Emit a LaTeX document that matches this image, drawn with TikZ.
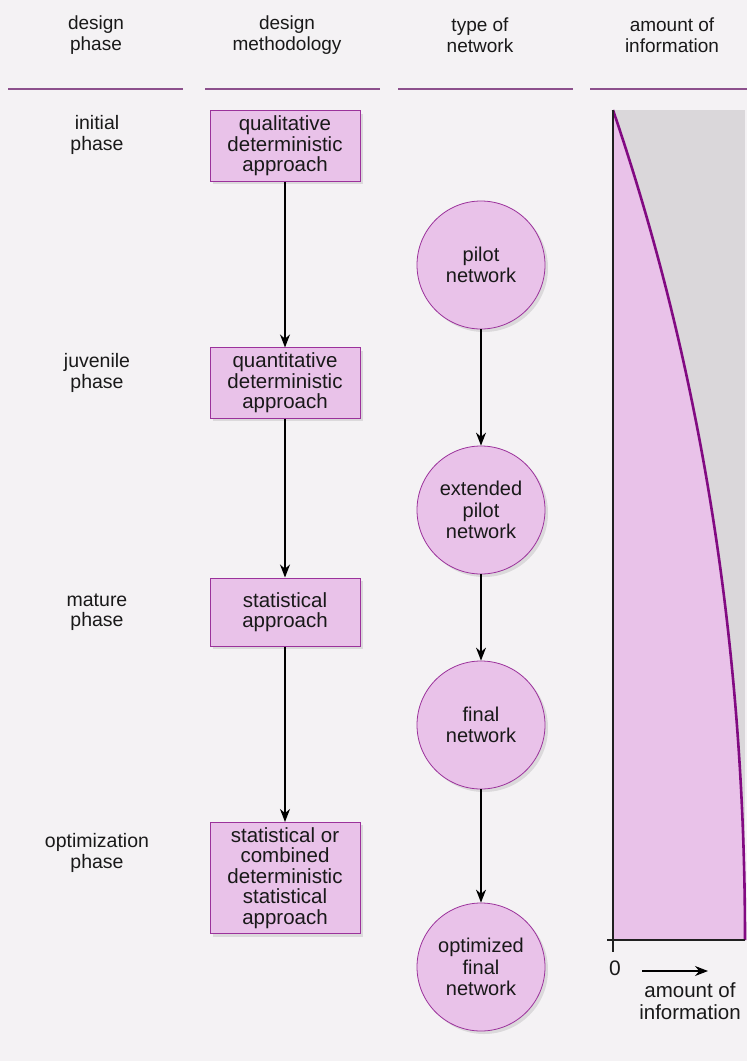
\documentclass[tikz,border=0pt]{standalone}
\usepackage{fontspec}
\setmainfont{Liberation Sans}
\usetikzlibrary{arrows.meta,positioning,shadows}
\definecolor{pagebg}{RGB}{244,242,244}
\definecolor{boxpink}{RGB}{233,194,233}
\definecolor{boxedge}{RGB}{155,50,155}
\definecolor{curvepurple}{RGB}{130,10,130}
\definecolor{rulepurple}{RGB}{140,80,140}
\definecolor{shadegray}{RGB}{218,215,218}
\definecolor{inkgray}{RGB}{25,25,25}

\begin{document}
\begin{tikzpicture}[
    x=1pt, y=-1pt,
    every node/.style={text=inkgray, align=center},
    headtxt/.style={font=\fontsize{19}{21}\selectfont},
    phasetxt/.style={font=\fontsize{19.5}{20.5}\selectfont},
    softshadow/.style={drop shadow={shadow xshift=3pt, shadow yshift=-3pt,
                       fill=black, opacity=0.10}},
    method/.style={rectangle, draw=boxedge, line width=1pt, fill=boxpink,
                   minimum width=150pt, minimum height=68pt, inner sep=5pt,
                   font=\fontsize{20.5}{20.5}\selectfont, softshadow},
    net/.style={circle, draw=boxedge, line width=0.8pt, fill=boxpink,
                minimum size=128pt, inner sep=0pt,
                font=\fontsize{20}{21.5}\selectfont, softshadow},
    arrow/.style={-{Stealth[length=13pt,width=10pt]}, line width=1.3pt},
    rule/.style={draw=rulepurple, line width=1.4pt}
]
\useasboundingbox (0,0) rectangle (747,1061);
\fill[pagebg] (0,0) rectangle (747,1061);

% column heads
\node[headtxt] (h1) at (96,35)  {design\\phase};
\node[headtxt] (h2) at (287,35) {design\\methodology};
\node[headtxt] (h3) at (480,35) {type of\\network};
\node[headtxt] (h4) at (672,35) {amount of\\information};
\foreach \xa/\xb in {8/183, 205/380, 398/573, 590/747}
    \draw[rule] (\xa,89) -- (\xb,89);

% phases
\node[phasetxt] (p1) at (97,135) {initial\\phase};
\node[phasetxt] (p2) at (97,373) {juvenile\\phase};
\node[phasetxt] (p3) at (97,612) {mature\\phase};
\node[phasetxt] (p4) at (97,853) {optimization\\phase};

% methodology
\node[method] (m1) at (285,146) {qualitative\\deterministic\\approach};
\node[method] (m2) at (285,383) {quantitative\\deterministic\\approach};
\node[method] (m3) at (285,612) {statistical\\approach};
\node[method] (m4) at (285,878) {statistical or\\combined\\deterministic\\statistical\\approach};

% networks
\node[net] (n1) at (481,265) {pilot\\network};
\node[net] (n2) at (481,510) {extended\\pilot\\network};
\node[net] (n3) at (481,725) {final\\network};
\node[net] (n4) at (481,967) {optimized\\final\\network};

\foreach \a/\b in {m1/m2, m2/m3, m3/m4, n1/n2, n2/n3, n3/n4}
    \draw[arrow] (\a) -- (\b);

% amount of information
\fill[shadegray] (613,110) rectangle (745,940);
\fill[boxpink] (613,110) .. controls (705,380) and (745,660) .. (745,940)
    -- (613,940) -- cycle;
\draw[curvepurple, line width=2.6pt] (613,110) .. controls (705,380) and (745,660) .. (745,940);
\draw[gray!25!black, line width=1.5pt] (613,110) -- (613,952);
\draw[gray!25!black, line width=1.5pt] (607,940) -- (745,940);

\node[font=\fontsize{21}{21}\selectfont] (zero) at (615,968) {0};
\coordinate (axl) at (642,971);
\coordinate (axr) at (708,971);
\draw[arrow, line width=1.1pt] (axl) -- (axr);
\node[font=\fontsize{20.5}{21.5}\selectfont] (axlab) at (690,1001) {amount of\\information};
\end{tikzpicture}
\end{document}
